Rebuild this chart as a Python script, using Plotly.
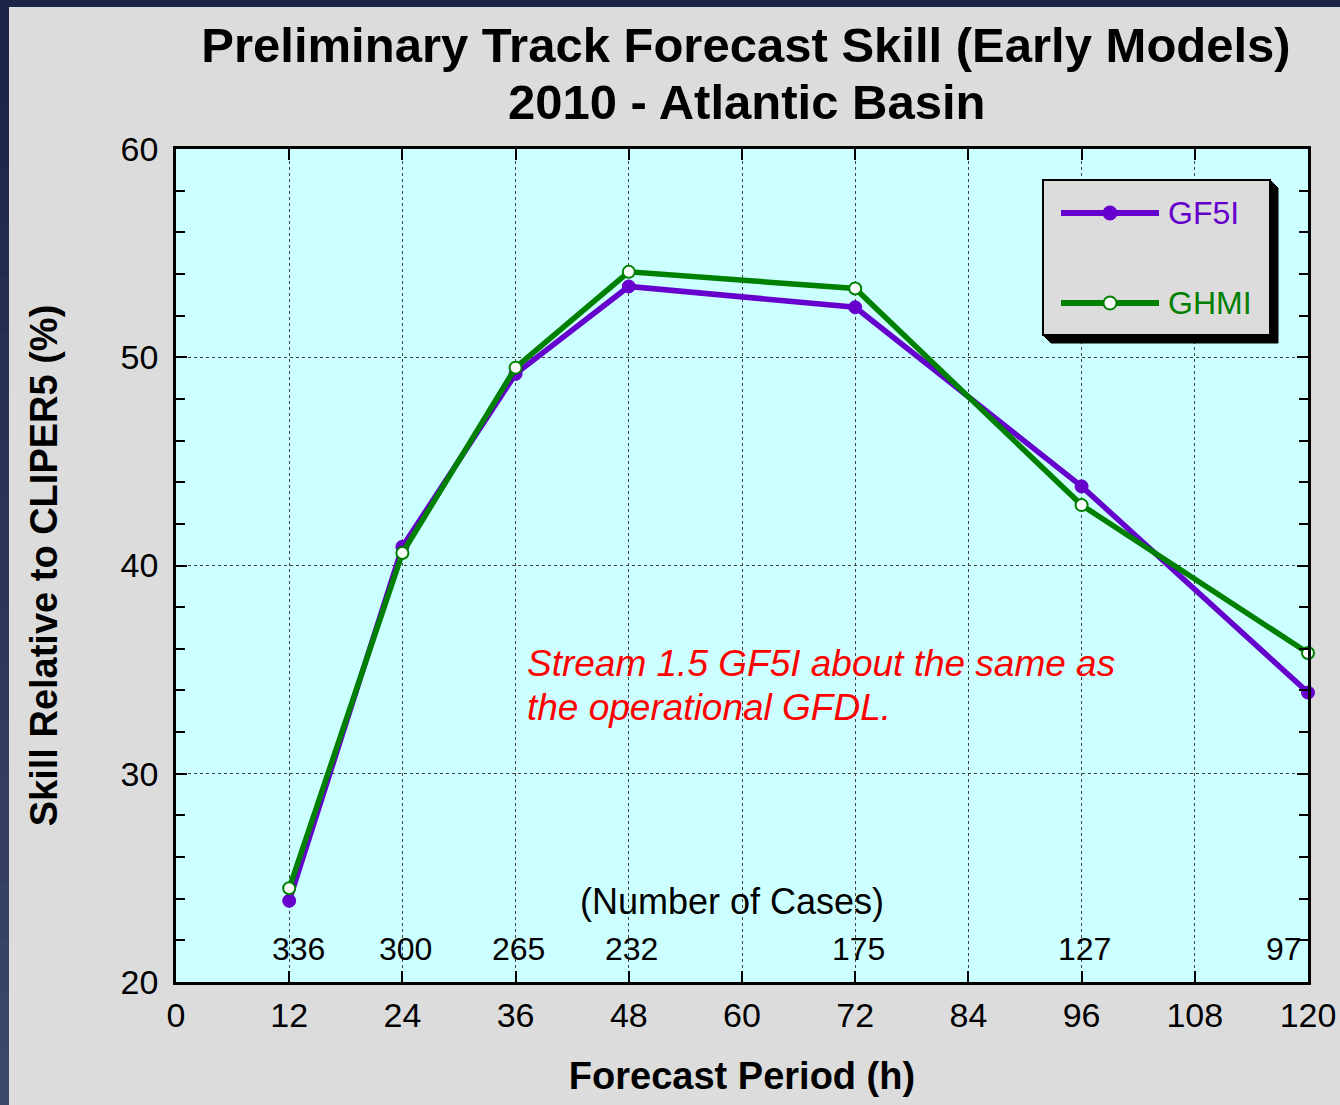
import plotly.graph_objects as go

# ---------------- data ----------------
forecast_hours = [12, 24, 36, 48, 72, 96, 120]
gf5i_skill = [23.9, 40.9, 49.2, 53.4, 52.4, 43.8, 33.9]
ghmi_skill = [24.5, 40.6, 49.5, 54.1, 53.3, 42.9, 35.8]
num_cases = ["336", "300", "265", "232", "175", "127", "97"]
x_ticks = [0, 12, 24, 36, 48, 60, 72, 84, 96, 108, 120]
y_ticks = [20, 30, 40, 50, 60]
series_names = ["GF5I", "GHMI"]

# ---------------- styling ----------------
W, H = 1340, 1105
ML, MR, MT, MB = 176, 32, 149, 123
PW, PH = W - ML - MR, H - MT - MB
FONT = "Liberation Sans, Arial, Helvetica, sans-serif"
PURPLE = "#6600CC"
GREEN = "#008000"
GRAY = "#DCDCDC"


def px2x(px):
    return (px - ML) / PW


def py2y(py):
    return (H - MB - py) / PH


fig = go.Figure()

fig.add_trace(go.Scatter(
    x=forecast_hours, y=gf5i_skill, name=series_names[0], mode="lines+markers",
    line=dict(color=PURPLE, width=5.5),
    marker=dict(color=PURPLE, size=13, line=dict(color=PURPLE, width=1)),
    showlegend=False, cliponaxis=False,
))
fig.add_trace(go.Scatter(
    x=forecast_hours, y=ghmi_skill, name=series_names[1], mode="lines+markers",
    line=dict(color=GREEN, width=5.5),
    marker=dict(color="white", size=12, line=dict(color=GREEN, width=2)),
    showlegend=False, cliponaxis=False,
))

shapes = []
# slide frame strips (navy)
shapes.append(dict(type="rect", xref="paper", yref="paper",
                   x0=px2x(0), x1=px2x(W), y0=py2y(0), y1=py2y(7),
                   fillcolor="#1C2545", line=dict(width=0), layer="below"))
n_strip = 20
for i in range(n_strip):
    t = i / (n_strip - 1)
    r = int(0x1C + (0x3C - 0x1C) * t)
    g = int(0x25 + (0x48 - 0x25) * t)
    b = int(0x45 + (0x68 - 0x45) * t)
    shapes.append(dict(type="rect", xref="paper", yref="paper",
                       x0=px2x(0), x1=px2x(9),
                       y0=py2y(min(H, H * (i + 1) / n_strip + 2)), y1=py2y(H * i / n_strip),
                       fillcolor=f"rgb({r},{g},{b})", line=dict(width=0), layer="below"))

# legend box with shadow
bx0, bx1, by0, by1 = 1043, 1270, 180, 335
sh = 8


def P(px, py):
    return f"{px2x(px)},{py2y(py)}"


shapes.append(dict(type="path", xref="paper", yref="paper",
                   path=f"M {P(bx1, by0)} L {P(bx1 + sh, by0 + sh)} L {P(bx1 + sh, by1 + sh)} "
                        f"L {P(bx0 + sh, by1 + sh)} L {P(bx0, by1)} Z",
                   fillcolor="black", line=dict(color="black", width=1)))
shapes.append(dict(type="rect", xref="paper", yref="paper",
                   x0=px2x(bx0), x1=px2x(bx1), y0=py2y(by1), y1=py2y(by0),
                   fillcolor=GRAY, line=dict(color="black", width=2)))
legend_rows = [(213, PURPLE, PURPLE), (303, GREEN, "white")]
for (ly, col, fill) in legend_rows:
    shapes.append(dict(type="line", xref="paper", yref="paper",
                       x0=px2x(1061), x1=px2x(1159), y0=py2y(ly), y1=py2y(ly),
                       line=dict(color=col, width=6)))
    shapes.append(dict(type="circle", xref="paper", yref="paper",
                       xsizemode="pixel", ysizemode="pixel",
                       xanchor=px2x(1110), yanchor=py2y(ly),
                       x0=-6.5, x1=6.5, y0=-6.5, y1=6.5,
                       fillcolor=fill, line=dict(color=col, width=2)))

annotations = []
for name, (ly, col, _) in zip(series_names, legend_rows):
    annotations.append(dict(xref="paper", yref="paper", x=px2x(1166), y=py2y(ly),
                            xanchor="left", yanchor="middle", text=name, showarrow=False,
                            font=dict(family=FONT, size=32, color=col)))

# number of cases
for i, (xh, n) in enumerate(zip(forecast_hours, num_cases)):
    last = i == len(num_cases) - 1
    annotations.append(dict(x=xh, y=21.6, xref="x", yref="y", text=n, showarrow=False,
                            xanchor="right" if last else "center", yanchor="middle",
                            xshift=(-4 if last else (9 if i == 0 else 3)),
                            font=dict(family=FONT, size=32, color="black")))
annotations.append(dict(x=58.9, y=23.85, xref="x", yref="y", text="(Number of Cases)",
                        showarrow=False, xanchor="center", yanchor="middle",
                        font=dict(family=FONT, size=36, color="black")))

# red note
annotations.append(dict(x=37.0, y=35.3, xref="x", yref="y",
                        text="<i>Stream 1.5 GF5I about the same as</i>",
                        showarrow=False, xanchor="left", yanchor="middle",
                        font=dict(family=FONT, size=37, color="#FF0000")))
annotations.append(dict(x=37.0, y=33.2, xref="x", yref="y",
                        text="<i>the operational GFDL.</i>",
                        showarrow=False, xanchor="left", yanchor="middle",
                        font=dict(family=FONT, size=37, color="#FF0000")))

# second title line
annotations.append(dict(xref="paper", yref="paper", x=px2x(746), y=py2y(102),
                        xanchor="center", yanchor="middle", showarrow=False,
                        text="2010 - Atlantic Basin",
                        font=dict(family=FONT, size=49, color="black", weight="bold")))

fig.update_layout(
    width=W, height=H,
    margin=dict(l=ML, r=MR, t=MT, b=MB, autoexpand=False),
    paper_bgcolor=GRAY,
    plot_bgcolor="#CCFFFF",
    title=dict(text="Preliminary Track Forecast Skill (Early Models)",
               x=746 / W, xanchor="center",
               y=1 - 45 / H, yanchor="middle", yref="container",
               font=dict(family=FONT, size=49, color="black", weight="bold")),
    shapes=shapes,
    annotations=annotations,
    showlegend=False,
)

fig.update_xaxes(
    range=[0, 120], tickvals=x_ticks, ticktext=[str(v) for v in x_ticks],
    ticks="inside", ticklen=11, tickwidth=1.5, tickcolor="black",
    showline=True, linecolor="black", linewidth=2.5, mirror="ticks",
    showgrid=True, gridcolor="#404040", gridwidth=1, griddash="dot",
    zeroline=False,
    tickfont=dict(family=FONT, size=34, color="black"),
    ticklabelstandoff=1,
    title=dict(text="Forecast Period (h)", standoff=30,
               font=dict(family=FONT, size=38, color="black", weight="bold")),
)
fig.update_yaxes(
    range=[20, 60], tickvals=y_ticks, ticktext=[str(v) for v in y_ticks],
    ticks="inside", ticklen=11, tickwidth=1.5, tickcolor="black",
    minor=dict(dtick=2, ticks="inside", ticklen=9, tickwidth=1.5, tickcolor="black", showgrid=False),
    showline=True, linecolor="black", linewidth=2.5, mirror="ticks",
    showgrid=True, gridcolor="#404040", gridwidth=1, griddash="dot",
    zeroline=False,
    tickfont=dict(family=FONT, size=34, color="black"),
    ticklabelstandoff=8,
    title=dict(text="Skill Relative to CLIPER5 (%)", standoff=52,
               font=dict(family=FONT, size=38, color="black", weight="bold")),
)

fig.write_html("out.html", config={"displayModeBar": False},
               post_script="document.body.style.margin='0';document.body.style.overflow='hidden';")
